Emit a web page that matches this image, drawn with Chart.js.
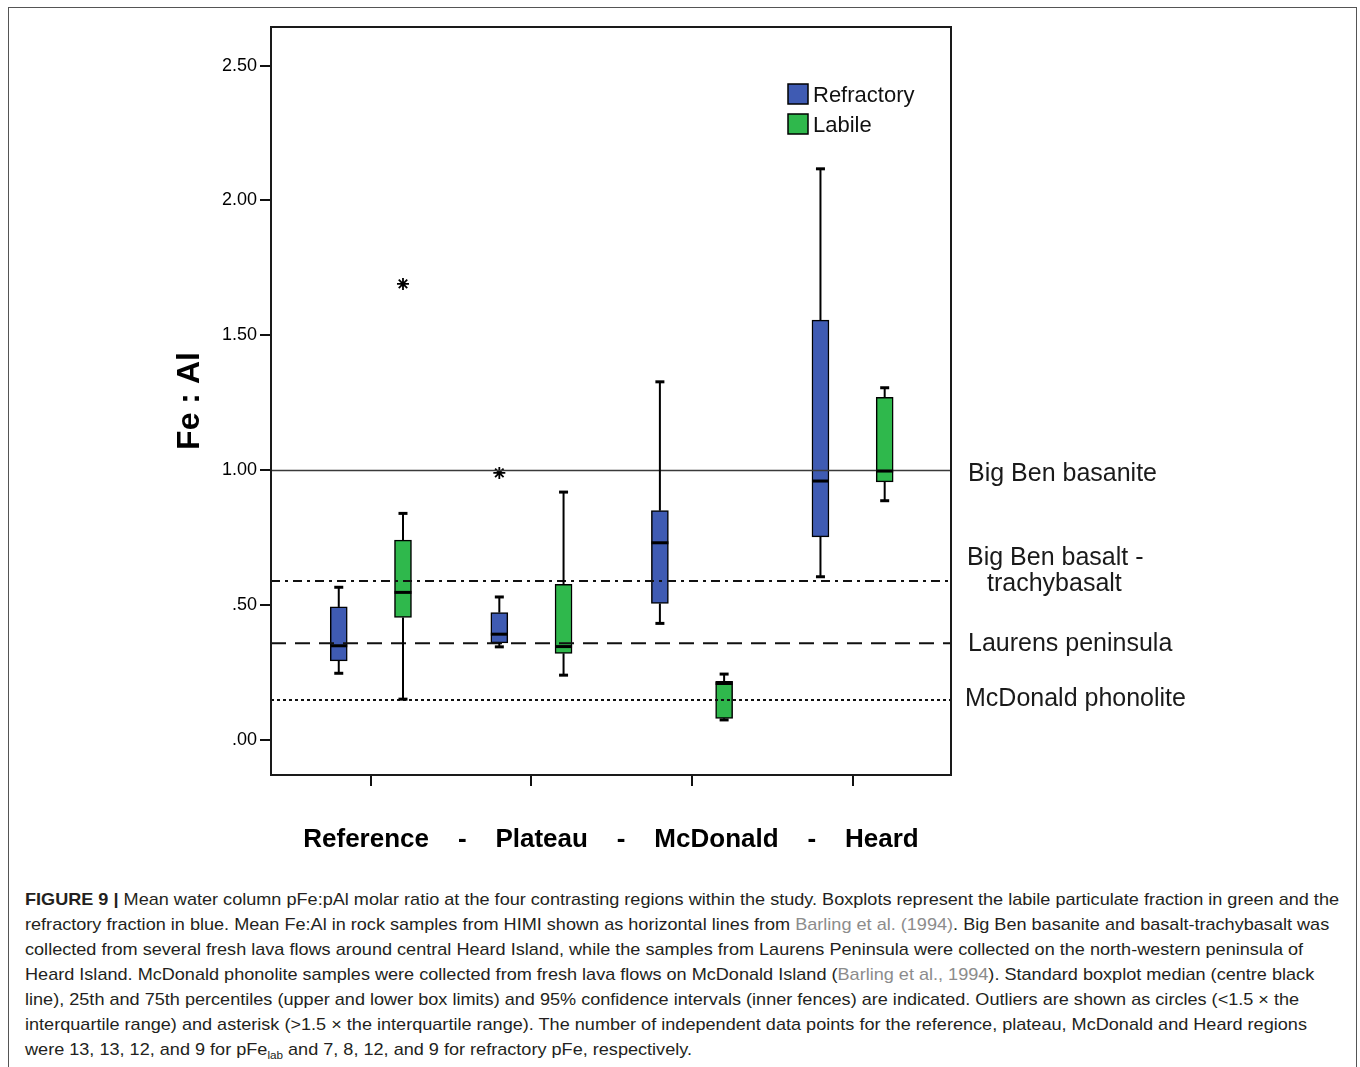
<!DOCTYPE html>
<html><head><meta charset="utf-8">
<script src="https://cdn.jsdelivr.net/npm/chart.js@4.4.1/dist/chart.umd.min.js"></script>
<style>
html,body{margin:0;padding:0;background:#fff;width:1360px;height:1067px;overflow:hidden;}
#frame{position:absolute;left:8px;top:7px;width:1349px;height:1100px;border:1.5px solid #555;box-sizing:border-box;}
#c{position:absolute;left:0;top:0;}
#caption{position:absolute;left:25px;top:887px;font-family:'Liberation Sans',Arial,sans-serif;font-size:17px;line-height:25px;color:#231f20;white-space:nowrap;transform-origin:0 0;}
#caption .ln{display:block;width:max-content;}
#caption .ref{color:#8c8c8c;}
#caption sub{font-size:11px;line-height:0;}
</style></head>
<body>
<div id="frame"></div>
<canvas id="c" width="1360" height="880"></canvas>
<div id="caption">
<span class="ln" id="ln1"><b>FIGURE 9 |</b> Mean water column pFe:pAl molar ratio at the four contrasting regions within the study. Boxplots represent the labile particulate fraction in green and the</span>
<span class="ln">refractory fraction in blue. Mean Fe:Al in rock samples from HIMI shown as horizontal lines from <span class="ref">Barling et al. (1994)</span>. Big Ben basanite and basalt-trachybasalt was</span>
<span class="ln">collected from several fresh lava flows around central Heard Island, while the samples from Laurens Peninsula were collected on the north-western peninsula of</span>
<span class="ln">Heard Island. McDonald phonolite samples were collected from fresh lava flows on McDonald Island (<span class="ref">Barling et al., 1994</span>). Standard boxplot median (centre black</span>
<span class="ln">line), 25th and 75th percentiles (upper and lower box limits) and 95% confidence intervals (inner fences) are indicated. Outliers are shown as circles (&lt;1.5 × the</span>
<span class="ln">interquartile range) and asterisk (&gt;1.5 × the interquartile range). The number of independent data points for the reference, plateau, McDonald and Heard regions</span>
<span class="ln">were 13, 13, 12, and 9 for pFe<sub>lab</sub> and 7, 8, 12, and 9 for refractory pFe, respectively.</span>
</div>
<script>
// ---------------- data ----------------
const categories = ['Reference', 'Plateau', 'McDonald', 'Heard'];
const xTitle = 'Reference    -    Plateau    -    McDonald    -    Heard';
const yTitle = 'Fe : Al';
const yTickValues = [0, 0.5, 1.0, 1.5, 2.0, 2.5];
const yTickLabels = ['.00', '.50', '1.00', '1.50', '2.00', '2.50'];

const refractoryMin    = [0.246, 0.344, 0.431, 0.604];
const refractoryQ1     = [0.292, 0.359, 0.505, 0.752];
const refractoryMedian = [0.348, 0.391, 0.730, 0.959];
const refractoryQ3     = [0.492, 0.471, 0.849, 1.556];
const refractoryMax    = [0.565, 0.529, 1.327, 2.117];
const refractoryOutliers = [null, 0.989, null, null];

const labileMin    = [0.150, 0.239, 0.073, 0.886];
const labileQ1     = [0.453, 0.320, 0.079, 0.956];
const labileMedian = [0.546, 0.345, 0.208, 0.996];
const labileQ3     = [0.740, 0.576, 0.216, 1.269];
const labileMax    = [0.839, 0.918, 0.243, 1.305];
const labileOutliers = [1.690, null, null, null];

const rockLabels = ['Big Ben basanite', 'Big Ben basalt -\ntrachybasalt', 'Laurens peninsula', 'McDonald phonolite'];
const rockValues = [0.998, 0.588, 0.357, 0.147];

// ---------------- styles ----------------
const X_MIN = 0.378, X_MAX = 4.613, Y_MIN = -0.1313, Y_MAX = 2.643;
const GROUP_OFFSET = 0.2;
const BOX_W = 17;
const BLUE = '#3f5bb3', GREEN = '#2fb84c';
const rockStyles = [
  {dash: [], width: 1.5, color: '#3a3a3a'},
  {dash: [9, 5, 3, 5], width: 2, color: '#111'},
  {dash: [15, 9], width: 2, color: '#111'},
  {dash: [3, 3], width: 2, color: '#111'}
];
const rockLabelPos = [
  {dx: 17, dy: [4]},
  {dx: 16, dy: [-23, 3], dx2: 36},
  {dx: 17, dy: [1]},
  {dx: 14, dy: [-1]}
];

const groups = [
  {label: 'Refractory', color: BLUE, offset: -GROUP_OFFSET,
   min: refractoryMin, q1: refractoryQ1, med: refractoryMedian, q3: refractoryQ3, max: refractoryMax},
  {label: 'Labile', color: GREEN, offset: GROUP_OFFSET,
   min: labileMin, q1: labileQ1, med: labileMedian, q3: labileQ3, max: labileMax}
];

const datasets = [];
rockValues.forEach((v, i) => {
  datasets.push({
    type: 'line', label: rockLabels[i], data: [{x: X_MIN, y: v}, {x: X_MAX, y: v}],
    borderColor: rockStyles[i].color, borderWidth: rockStyles[i].width, borderDash: rockStyles[i].dash,
    pointRadius: 0, fill: false, order: 0
  });
});
datasets.push({
  type: 'scatter', label: 'Refractory outliers',
  data: refractoryOutliers.map((v, i) => v == null ? null : {x: i + 1 - GROUP_OFFSET, y: v}).filter(Boolean),
  pointStyle: 'star', pointRadius: 6, borderColor: '#000', borderWidth: 1.8, order: 1
});
datasets.push({
  type: 'scatter', label: 'Labile outliers',
  data: labileOutliers.map((v, i) => v == null ? null : {x: i + 1 + GROUP_OFFSET, y: v}).filter(Boolean),
  pointStyle: 'star', pointRadius: 6, borderColor: '#000', borderWidth: 1.8, order: 1
});
groups.forEach(g => {
  datasets.push({
    type: 'bar', label: g.label,
    data: categories.map((c, i) => ({x: i + 1 + g.offset, y: [g.q1[i], g.q3[i]]})),
    backgroundColor: g.color, borderColor: '#000', borderWidth: 1.5, borderSkipped: false,
    barThickness: BOX_W, grouped: false, order: 2
  });
});

const decor = {
  id: 'decor',
  afterDatasetsDraw(chart) {
    const {ctx, scales: {x, y}} = chart;
    const seg = (x1, y1, x2, y2) => { ctx.beginPath(); ctx.moveTo(x1, y1); ctx.lineTo(x2, y2); ctx.stroke(); };
    ctx.save();
    ctx.strokeStyle = '#000';
    groups.forEach(g => {
      categories.forEach((c, i) => {
        const cx = x.getPixelForValue(i + 1 + g.offset);
        const pMin = y.getPixelForValue(g.min[i]), pMax = y.getPixelForValue(g.max[i]);
        const pQ1 = y.getPixelForValue(g.q1[i]), pQ3 = y.getPixelForValue(g.q3[i]);
        const pMed = y.getPixelForValue(g.med[i]);
        ctx.lineWidth = 2;
        seg(cx, pQ3, cx, pMax);
        seg(cx, pQ1, cx, pMin);
        ctx.lineWidth = 3;
        seg(cx - 4.5, pMax, cx + 4.5, pMax);
        seg(cx - 4.5, pMin, cx + 4.5, pMin);
        seg(cx - BOX_W / 2, pMed, cx + BOX_W / 2, pMed);
      });
    });
    ctx.restore();
  },
  afterDraw(chart) {
    const {ctx, chartArea: a, scales: {y}} = chart;
    ctx.save();
    ctx.strokeStyle = '#1a1a1a';
    ctx.lineWidth = 2;
    ctx.strokeRect(a.left, a.top, a.right - a.left, a.bottom - a.top);
    ctx.fillStyle = '#1a1a1a';
    ctx.font = '25px "Liberation Sans", Arial, sans-serif';
    ctx.textBaseline = 'middle';
    ctx.textAlign = 'left';
    rockLabels.forEach((lab, i) => {
      const py = y.getPixelForValue(rockValues[i]);
      const lines = lab.split('\n');
      const p = rockLabelPos[i];
      lines.forEach((t, k) => {
        const dx = k === 0 ? p.dx : p.dx2;
        ctx.fillText(t, a.right + dx, py + p.dy[k]);
      });
    });
    const lx = a.right - 163, ly = a.top + 57;
    ctx.font = '22px "Liberation Sans", Arial, sans-serif';
    groups.forEach((g, k) => {
      const top = ly + k * 30;
      ctx.fillStyle = g.color;
      ctx.fillRect(lx, top, 20, 20);
      ctx.lineWidth = 1.5;
      ctx.strokeStyle = '#000';
      ctx.strokeRect(lx, top, 20, 20);
      ctx.fillStyle = '#111';
      ctx.fillText(g.label, lx + 25, top + 12);
    });
    ctx.restore();
  }
};

new Chart(document.getElementById('c'), {
  type: 'scatter',
  data: {datasets},
  options: {
    responsive: false, animation: false, devicePixelRatio: 1,
    layout: {padding: {left: 0, right: 409, top: 27, bottom: 0}},
    plugins: {legend: {display: false}, tooltip: {enabled: false}},
    scales: {
      x: {
        type: 'linear', min: X_MIN, max: X_MAX, offset: false,
        afterBuildTicks: s => { s.ticks = categories.map((c, i) => ({value: i + 1})); },
        afterFit: s => { s.height = 105; },
        ticks: {display: false},
        grid: {drawOnChartArea: false, drawTicks: true, tickLength: 11, color: '#111', lineWidth: 2, offset: false},
        border: {display: false},
        title: {display: true, text: xTitle, color: '#000',
                font: {family: '"Liberation Sans", Arial, sans-serif', size: 26, weight: 'bold'},
                padding: {top: 0, bottom: 25}}
      },
      y: {
        type: 'linear', min: Y_MIN, max: Y_MAX, beginAtZero: false,
        afterBuildTicks: s => { s.ticks = yTickValues.map(v => ({value: v})); },
        afterFit: s => { s.width = 271; },
        ticks: {
          color: '#000', padding: 3,
          font: {family: '"Liberation Sans", Arial, sans-serif', size: 18},
          callback: (v, i) => yTickLabels[i]
        },
        grid: {drawOnChartArea: false, drawTicks: true, tickLength: 11, color: '#111', lineWidth: 2},
        border: {display: false},
        title: {display: true, text: yTitle, color: '#000',
                font: {family: '"Liberation Sans", Arial, sans-serif', size: 32, weight: 'bold'},
                padding: {top: 171, bottom: 0}}
      }
    }
  },
  plugins: [decor]
});

(function () {
  const cap = document.getElementById('caption');
  const w = document.getElementById('ln1').getBoundingClientRect().width;
  const target = 1314;
  if (w > 0) cap.style.transform = 'scaleX(' + (target / w).toFixed(4) + ')';
})();
</script>
</body></html>
